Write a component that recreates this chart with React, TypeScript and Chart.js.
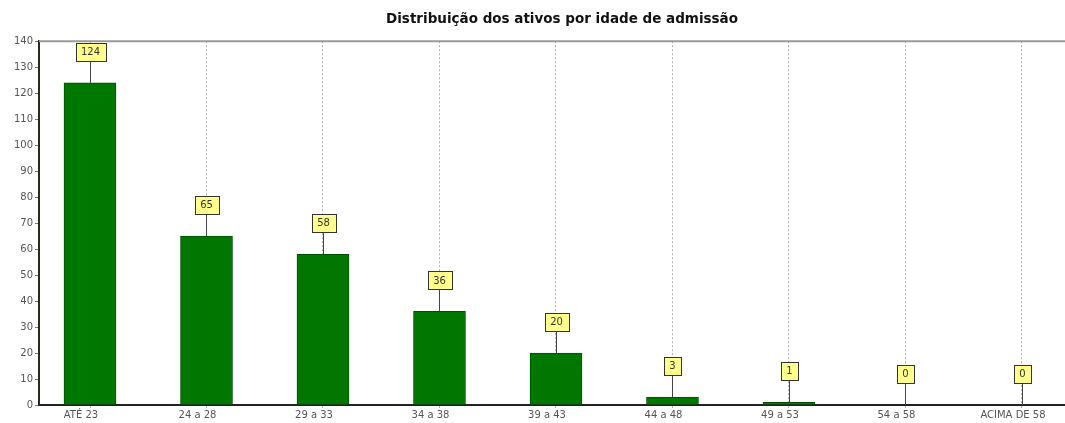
import React, { useEffect, useRef } from "react";
import { Chart, registerables } from "chart.js";

Chart.register(...registerables);

const title = "Distribuição dos ativos por idade de admissão";
const categories = ["ATÉ 23", "24 a 28", "29 a 33", "34 a 38", "39 a 43", "44 a 48", "49 a 53", "54 a 58", "ACIMA DE 58"];
const values = [124, 65, 58, 36, 20, 3, 1, 0, 0];
const yTicksMax = 140;
const yStep = 10;

const valueLabels = {
  id: "valueLabels",
  afterDatasetsDraw(chart: any) {
    const ctx = chart.ctx;
    const meta = chart.getDatasetMeta(0);
    ctx.save();
    ctx.font = "10px 'DejaVu Sans'";
    ctx.textAlign = "center";
    ctx.textBaseline = "middle";
    meta.data.forEach((bar: any, i: number) => {
      const x = Math.round(bar.x) + 0.5;
      const top = bar.y;
      const cy = top - 31;
      const text = String(values[i]);
      const w = Math.round(ctx.measureText(text).width + 11);
      const h = 18;
      ctx.strokeStyle = "#444";
      ctx.lineWidth = 1;
      ctx.beginPath();
      ctx.moveTo(x, cy + h / 2);
      ctx.lineTo(x, top);
      ctx.stroke();
      const bx = Math.round(x - w / 2) + 0.5;
      const by = Math.round(cy - h / 2) + 0.5;
      ctx.fillStyle = "#ffff8c";
      ctx.fillRect(bx, by, w, h);
      ctx.strokeStyle = "#333";
      ctx.strokeRect(bx, by, w, h);
      ctx.fillStyle = "#333";
      ctx.fillText(text, x, cy + 0.5);
    });
    ctx.restore();
  },
  afterDraw(chart: any) {
    const { ctx, chartArea } = chart;
    ctx.save();
    ctx.strokeStyle = "#9a9a9a";
    ctx.lineWidth = 2;
    ctx.beginPath();
    ctx.moveTo(chartArea.left, chartArea.top);
    ctx.lineTo(chartArea.right, chartArea.top);
    ctx.stroke();
    ctx.restore();
  },
};

export default function App() {
  const ref = useRef<HTMLCanvasElement>(null);
  useEffect(() => {
    if (!ref.current) return;
    const chart = new Chart(ref.current, {
      type: "bar",
      data: {
        datasets: [
          {
            data: values.map((v, i) => ({ x: i, y: v })),
            backgroundColor: "#007800",
            borderColor: "#004f00",
            borderWidth: 1,
            barThickness: 52,
          } as any,
        ],
      },
      plugins: [valueLabels],
      options: {
        responsive: false,
        animation: false,
        layout: { padding: { left: 0, right: 0, top: 0, bottom: 0 } },
        plugins: {
          legend: { display: false },
          tooltip: { enabled: false },
          title: {
            display: true,
            text: title,
            fullSize: false,
            color: "#111",
            font: { family: "'DejaVu Sans'", size: 13.5, weight: "bold" },
            padding: { top: 11, bottom: 14 },
          },
        },
        scales: {
          x: {
            type: "linear",
            offset: false,
            min: -0.4378,
            max: 8.541,
            afterBuildTicks: (scale: any) => {
              scale.ticks = categories.map((_, i) => ({ value: i }));
            },
            afterFit: (scale: any) => {
              scale.height = 18;
            },
            ticks: {
              callback: (v: any) => categories[v] ?? "",
              color: "#555",
              font: { family: "'DejaVu Sans'", size: 10 },
              padding: 1,
              labelOffset: -9,
              maxRotation: 0,
              autoSkip: false,
            },
            grid: {
              offset: false,
              color: "#b0b0b0",
              tickLength: 3,
              drawTicks: true,
            },
            border: { color: "#222", width: 2, dash: [2, 2] } as any,
          },
          y: {
            min: 0,
            max: yTicksMax,
            afterFit: (scale: any) => {
              scale.width = 39;
            },
            ticks: {
              stepSize: yStep,
              color: "#555",
              font: { family: "'DejaVu Sans'", size: 10 },
              padding: 2,
            },
            grid: {
              drawOnChartArea: false,
              tickLength: 4,
              color: "#777",
            },
            border: { color: "#2a2a1a", width: 2 },
          },
        },
      } as any,
    });
    return () => chart.destroy();
  }, []);
  return (
    <div style={{ position: "absolute", left: 0, top: 0, width: 1065, height: 423, overflow: "hidden", background: "#fff" }}>
      <canvas ref={ref} width={1085} height={423} style={{ display: "block" }} />
    </div>
  );
}
